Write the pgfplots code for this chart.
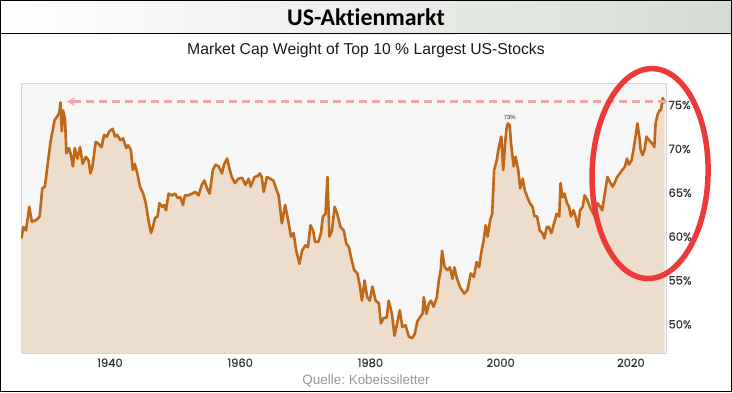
\documentclass[border=0pt]{standalone}
\usepackage{fontspec}
\setmainfont{Liberation Sans}
\newfontfamily\titlefont[Ligatures=NoCommon]{Carlito}
\newfontfamily\tickfont[FakeBold=0.6]{Poppins}
\usepackage{pgfplots}
\pgfplotsset{compat=1.18}
\usetikzlibrary{arrows.meta}
\frenchspacing
\definecolor{linecol}{RGB}{192,104,26}
\definecolor{fillcol}{RGB}{236,221,204}
\definecolor{bgcol}{RGB}{246,246,246}
\definecolor{boxcol}{RGB}{212,212,212}
\definecolor{arrowcol}{RGB}{241,166,166}
\definecolor{ellcol}{RGB}{236,58,58}
\definecolor{bandcol}{RGB}{214,220,212}
\definecolor{tickcol}{RGB}{50,50,50}
\definecolor{srccol}{RGB}{150,150,150}
\pgfplotstableread{
x y
1926.4 59.8
1926.7 61.1
1927.1 60.7
1927.6 63.4
1928.0 61.7
1928.7 61.9
1929.2 62.3
1929.6 65.5
1930.0 65.7
1930.5 68.7
1930.9 71.0
1931.2 72.1
1931.5 73.3
1931.9 73.7
1932.2 74.1
1932.4 75.3
1932.6 72.0
1932.8 74.4
1933.1 73.3
1933.3 69.5
1933.7 70.1
1934.0 69.3
1934.3 68.0
1934.6 70.1
1935.0 68.9
1935.4 70.2
1935.8 68.3
1936.3 69.1
1936.7 68.7
1937.0 67.2
1937.3 68.0
1937.8 70.8
1938.2 70.6
1938.7 70.2
1939.1 71.6
1939.5 71.4
1939.9 72.0
1940.4 72.3
1940.8 71.4
1941.1 71.6
1941.6 71.0
1942.0 71.2
1942.5 70.1
1942.8 70.4
1943.2 69.9
1943.5 67.6
1943.8 68.3
1944.2 67.2
1944.6 65.7
1945.1 64.9
1945.5 63.8
1945.9 61.9
1946.3 60.4
1946.6 61.1
1946.9 62.1
1947.3 62.3
1947.6 63.8
1948.0 63.4
1948.3 63.6
1948.6 63.0
1949.0 64.9
1949.5 64.7
1950.0 64.9
1950.4 64.4
1950.8 64.5
1951.2 63.6
1951.5 64.7
1952.0 64.7
1952.6 64.9
1953.1 65.1
1953.6 64.7
1954.1 65.9
1954.5 66.4
1954.9 65.5
1955.3 64.9
1955.8 67.6
1956.2 68.2
1956.7 68.0
1957.2 67.2
1957.5 68.2
1958.0 68.9
1958.4 67.6
1958.7 66.8
1959.2 66.1
1959.7 66.6
1960.3 66.7
1960.8 65.9
1961.3 66.6
1961.6 65.7
1962.2 66.8
1962.7 66.9
1963.0 67.2
1963.3 66.8
1963.6 65.1
1964.1 66.8
1964.6 66.6
1965.1 66.4
1965.5 65.5
1965.9 64.7
1966.4 61.5
1966.9 63.6
1967.4 61.7
1967.8 60.0
1968.2 60.4
1968.6 58.4
1969.1 56.9
1969.5 58.4
1970.0 59.0
1970.4 58.8
1970.8 61.3
1971.2 60.7
1971.5 59.4
1972.0 59.4
1972.4 60.4
1972.7 62.3
1973.1 62.6
1973.4 66.8
1973.7 60.0
1974.1 60.7
1974.5 63.4
1974.9 62.6
1975.4 61.1
1975.9 60.7
1976.3 59.2
1976.7 58.8
1977.0 57.7
1977.5 56.2
1978.0 55.8
1978.4 54.3
1978.7 52.7
1979.1 55.0
1979.5 53.1
1979.9 52.7
1980.3 54.3
1980.8 52.7
1981.3 52.4
1981.6 50.1
1982.0 50.7
1982.5 50.8
1982.8 52.7
1983.3 51.2
1983.7 48.7
1984.1 50.1
1984.5 51.6
1984.9 49.7
1985.4 49.9
1985.9 48.6
1986.4 48.4
1986.8 48.9
1987.2 50.3
1987.6 50.8
1988.0 51.2
1988.2 53.1
1988.6 51.2
1989.0 52.4
1989.3 52.7
1989.7 52.0
1990.2 53.1
1990.5 55.0
1990.8 56.2
1991.0 58.4
1991.4 56.5
1991.8 56.2
1992.2 56.5
1992.6 55.2
1992.9 56.5
1993.3 55.2
1993.8 54.2
1994.4 53.5
1994.9 53.9
1995.4 55.8
1995.9 55.4
1996.3 57.1
1996.7 56.5
1997.0 58.1
1997.4 59.6
1997.7 61.3
1998.0 60.0
1998.4 61.9
1998.7 62.6
1999.0 67.6
1999.4 68.7
1999.6 69.7
1999.9 70.8
2000.1 71.4
2000.4 67.6
2000.7 70.8
2000.9 72.3
2001.1 72.9
2001.4 72.7
2001.6 70.6
2002.0 68.0
2002.3 69.1
2002.7 67.6
2003.0 65.5
2003.4 66.6
2003.7 65.3
2004.1 64.5
2004.5 63.8
2004.9 63.4
2005.2 62.3
2005.6 62.3
2006.0 60.7
2006.4 60.4
2006.7 59.8
2007.1 61.1
2007.4 61.1
2007.8 60.4
2008.2 61.5
2008.6 62.6
2009.0 62.3
2009.2 66.1
2009.5 64.5
2009.8 64.9
2010.2 63.8
2010.5 63.4
2010.8 62.3
2011.2 63.0
2011.5 62.3
2011.9 61.1
2012.2 63.0
2012.6 63.4
2012.9 64.7
2013.3 64.2
2013.7 63.4
2014.1 62.8
2014.5 62.3
2014.9 63.8
2015.3 63.4
2015.6 63.0
2016.0 64.9
2016.4 66.8
2016.8 66.2
2017.2 65.7
2017.5 66.1
2017.9 66.8
2018.3 67.2
2018.7 67.6
2019.1 68.0
2019.4 68.9
2019.7 68.2
2020.1 68.7
2020.4 69.9
2020.8 71.8
2021.0 72.9
2021.3 71.4
2021.5 69.9
2021.8 69.3
2022.1 69.9
2022.4 71.4
2022.8 71.0
2023.3 70.6
2023.6 70.2
2023.8 72.9
2024.1 73.9
2024.4 74.4
2024.6 74.4
2024.9 75.8
2025.2 75.2
}\datatable
\begin{document}
\begin{tikzpicture}[x=1bp,y=1bp]
\useasboundingbox (0,0) rectangle (732,392);
% title band
\shade[left color=white, right color=bandcol] (0,358.5) rectangle (732,392);
\draw[black, line width=1bp] (0,358.5) -- (732,358.5);
\node[font={\titlefont\bfseries\fontsize{24}{26}\selectfont}, text=black] at (366,374.5) {US-Aktienmarkt};
\node[font={\fontsize{15.8}{18}\selectfont}, text=black!90] at (366,342) {Market Cap Weight of Top 10 \% Largest US-Stocks};
\begin{axis}[
  at={(21bp,39bp)}, anchor=south west,
  width=645bp, height=269bp, scale only axis,
  xmin=1926.33, xmax=2025.4, ymin=46.73, ymax=77.4,
  clip mode=individual,
  axis background/.style={fill=bgcol},
  axis line style={boxcol, line width=1bp},
  major tick length=0pt,
  xtick={1940,1960,1980,2000,2020},
  xticklabels={1940,1960,1980,2000,2020},
  ytick={50,55,60,65,70,75},
  yticklabels={50\%,55\%,60\%,65\%,70\%,75\%},
  yticklabel pos=right,
  tick label style={font={\tickfont\fontsize{11.5}{13}\selectfont}, text=tickcol},
  xticklabel style={yshift=-2bp},
  yticklabel style={xshift=-1bp},
  /pgf/number format/assume math mode=true,
]
\addplot[fill=fillcol, draw=none] table[x=x,y=y] {\datatable} \closedcycle;
\addplot[linecol, line width=2.6bp, line join=round] table[x=x,y=y] {\datatable};
\draw[arrowcol, line width=2.5bp, dash pattern=on 8bp off 5bp, -{Stealth[length=8bp,width=9bp]}] (axis cs:2025.4,75.4) -- (axis cs:1933.4,75.4);
\node[font={\fontsize{6}{7}\selectfont}, text=tickcol] at (axis cs:2001.4,73.6) {73\%};
\draw[ellcol, line width=5.5bp, rotate around={-1.5:(axis cs:2022.95,67.19)}] (axis cs:2022.95,67.19) ellipse [x radius=58bp, y radius=105bp];
\end{axis}
\node[font={\fontsize{13.5}{15}\selectfont}, text=srccol] at (366,11) {Quelle: Kobeissiletter};
\draw[black, line width=1bp] (0.5,0.5) rectangle (731.5,391.5);
\end{tikzpicture}
\end{document}
